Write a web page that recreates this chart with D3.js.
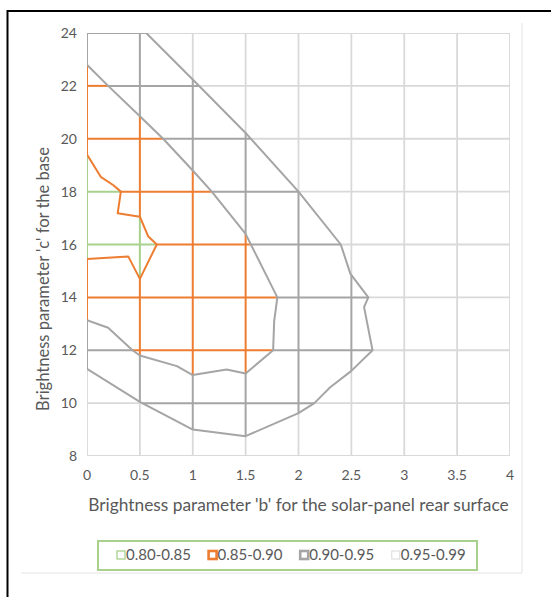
<!DOCTYPE html>
<html>
<head>
<meta charset="utf-8">
<script src="https://cdn.jsdelivr.net/npm/d3@7"></script>
<style>
  body { margin: 0; background: #fff; }
  text { font-family: Lato, 'Open Sans', sans-serif; fill: #595959; }
</style>
</head>
<body>
<script>
// axis ticks
const bTicks = [0, 0.5, 1, 1.5, 2, 2.5, 3, 3.5, 4];
const cTicks = [8, 10, 12, 14, 16, 18, 20, 22, 24];
const bandLabels = ['0.80-0.85', '0.85-0.90', '0.90-0.95', '0.95-0.99'];

// contour lines, as [b, c]
const contour085 = [[0, 19.4], [0.13, 18.56], [0.25, 18.24], [0.32, 18], [0.29, 17.18],
  [0.5, 17.05], [0.58, 16.3], [0.66, 16], [0.5, 14.7], [0.39, 15.55], [0, 15.45]];
const contour090 = [[0, 22.8], [0.2, 22], [0.5, 20.85], [0.72, 20], [1.0, 18.8], [1.18, 18],
  [1.25, 17.65], [1.5, 16.4], [1.55, 16], [1.8, 14], [1.77, 13.1], [1.76, 12], [1.5, 11.12],
  [1.32, 11.27], [1.0, 11.06], [0.85, 11.4], [0.5, 11.8], [0.43, 12], [0.2, 12.85], [0, 13.14]];
const contour095 = [[0.56, 24], [1.0, 22.24], [1.5, 20.22], [2.0, 18], [2.4, 16], [2.49, 14.9],
  [2.66, 14], [2.62, 13.63], [2.7, 12], [2.5, 11.22], [2.3, 10.6], [2.15, 10], [2.0, 9.62],
  [1.5, 8.75], [1.0, 9.0], [0.5, 10.05], [0, 11.3]];

const xTitle = "Brightness parameter 'b' for the solar-panel rear surface";
const yTitle = "Brightness parameter 'c' for the base";

const W = 551, H = 597;
const PLOT = { left: 87, right: 510, top: 33, bottom: 456 };
const COLORS = ['#a9d18e', '#ed7d31', '#a5a5a5', '#d9d9d9'];

const svg = d3.select('body').append('svg')
  .attr('width', W)
  .attr('height', H);

// outer frame
svg.append('path')
  .attr('d', 'M7.5,' + H + 'V11H' + W)
  .attr('fill', 'none')
  .attr('stroke', '#000')
  .attr('stroke-width', 2);

// faint chart-area edge (right + bottom)
svg.append('path')
  .attr('d', 'M522,23V573H21')
  .attr('fill', 'none')
  .attr('stroke', '#e3e3e3')
  .attr('stroke-width', 1);

const x = d3.scaleLinear().domain([0, 4]).range([PLOT.left, PLOT.right]);
const y = d3.scaleLinear().domain([8, 24]).range([PLOT.bottom, PLOT.top]);

svg.append('clipPath').attr('id', 'plotclip')
  .append('rect')
  .attr('x', PLOT.left).attr('y', PLOT.top)
  .attr('width', PLOT.right - PLOT.left).attr('height', PLOT.bottom - PLOT.top);

const g = svg.append('g').attr('clip-path', 'url(#plotclip)');

// band of a point: which contour region holds it
const poly085 = contour085.slice();
const poly090 = contour090.slice();
const poly095 = contour095.concat([[0, 24]]);
function band(b, c) {
  const p = [b, c];
  if (d3.polygonContains(poly085, p)) return 0;
  if (d3.polygonContains(poly090, p)) return 1;
  if (d3.polygonContains(poly095, p)) return 2;
  return 3;
}

// split every grid line into runs of one band
const N = 1600;
const segs = [];
function trace(fixed, vertical) {
  const lo = vertical ? 8 : 0, hi = vertical ? 24 : 4;
  const flo = vertical ? 0 : 8, fhi = vertical ? 4 : 24;
  const f = Math.min(Math.max(fixed, flo + 1e-4), fhi - 1e-4);
  const step = (hi - lo) / N;
  let start = lo, cur = null;
  for (let i = 0; i <= N; i++) {
    const t = Math.min(Math.max(lo + step * i, lo + 1e-4), hi - 1e-4);
    const bd = vertical ? band(f, t) : band(t, f);
    if (cur === null) cur = bd;
    else if (bd !== cur) {
      const cut = lo + step * (i - 0.5);
      segs.push({ fixed, vertical, from: start, to: cut, band: cur });
      start = cut;
      cur = bd;
    }
  }
  segs.push({ fixed, vertical, from: start, to: hi, band: cur });
}
bTicks.forEach((b) => trace(b, true));
cTicks.forEach((c) => trace(c, false));
segs.sort((a, b) => b.band - a.band);

g.selectAll('line.grid')
  .data(segs)
  .join('line')
  .attr('class', 'grid')
  .attr('x1', (d) => (d.vertical ? x(d.fixed) : x(d.from)))
  .attr('x2', (d) => (d.vertical ? x(d.fixed) : x(d.to)))
  .attr('y1', (d) => (d.vertical ? y(d.from) : y(d.fixed)))
  .attr('y2', (d) => (d.vertical ? y(d.to) : y(d.fixed)))
  .attr('stroke', (d) => COLORS[d.band])
  .attr('stroke-width', (d) => (d.band === 3 ? 1.8 : 2));

// contour lines
const line = d3.line().x((d) => x(d[0])).y((d) => y(d[1]));
const contours = [
  { pts: contour095, band: 2 },
  { pts: contour090, band: 2 },
  { pts: contour085, band: 1 }
];
g.selectAll('path.contour')
  .data(contours)
  .join('path')
  .attr('class', 'contour')
  .attr('d', (d) => line(d.pts))
  .attr('fill', 'none')
  .attr('stroke', (d) => COLORS[d.band])
  .attr('stroke-width', 2)
  .attr('stroke-linejoin', 'round');

// scale a text node's font so it spans a target width
function fit(sel, width) {
  const w = sel.node().getComputedTextLength();
  sel.attr('font-size', parseFloat(sel.attr('font-size')) * width / w);
}

// tick labels
svg.selectAll('text.xtick')
  .data(bTicks)
  .join('text')
  .attr('class', 'xtick')
  .attr('x', (d) => x(d))
  .attr('y', 480)
  .attr('text-anchor', 'middle')
  .attr('font-size', 14)
  .text((d) => d);

svg.selectAll('text.ytick')
  .data(cTicks)
  .join('text')
  .attr('class', 'ytick')
  .attr('x', 77)
  .attr('y', (d) => y(d) + 5)
  .attr('text-anchor', 'end')
  .attr('font-size', 14)
  .text((d) => d);

// axis titles
const xt = svg.append('text')
  .attr('x', (PLOT.left + PLOT.right) / 2)
  .attr('y', 511)
  .attr('text-anchor', 'middle')
  .attr('font-size', 15)
  .text(xTitle);
fit(xt, 421);

const yt = svg.append('text')
  .attr('transform', 'translate(49,279) rotate(-90)')
  .attr('text-anchor', 'middle')
  .attr('font-size', 15)
  .text(yTitle);
fit(yt, 264);

// legend
svg.append('rect')
  .attr('x', 98).attr('y', 541)
  .attr('width', 379).attr('height', 29)
  .attr('fill', 'none')
  .attr('stroke', COLORS[0])
  .attr('stroke-width', 2);

const symW = [1.3, 2.6, 2.6, 1];
const items = svg.selectAll('g.leg')
  .data(bandLabels)
  .join('g')
  .attr('class', 'leg')
  .attr('transform', (d, i) => 'translate(' + (117 + i * 91.6) + ',555)');
items.append('rect')
  .attr('x', 0).attr('y', -4)
  .attr('width', 8).attr('height', 8)
  .attr('fill', '#fff')
  .attr('stroke', (d, i) => COLORS[i])
  .attr('stroke-width', (d, i) => symW[i]);
items.append('text')
  .attr('x', 9)
  .attr('y', 4.8)
  .attr('font-size', 13)
  .text((d) => d);
const lt = items.select('text');
const lw = lt.node().getComputedTextLength();
lt.attr('font-size', 13 * 65 / lw);
</script>
</body>
</html>
